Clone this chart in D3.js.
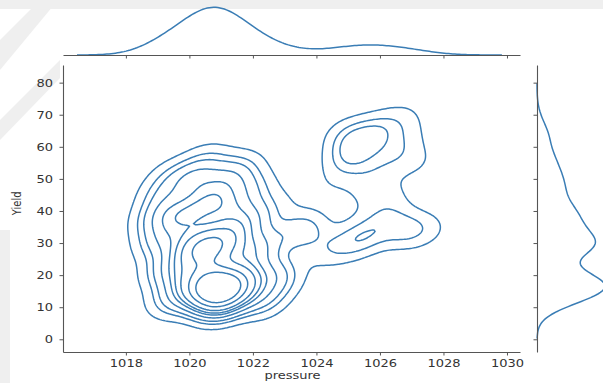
<!DOCTYPE html>
<html>
<head>
<meta charset="utf-8">
<script src="https://cdn.jsdelivr.net/npm/d3@7"></script>
<style>
  body { margin: 0; background: #fff; }
  svg { display: block; }
  .axis text { font-family: "DejaVu Sans", sans-serif; font-size: 10.5px; fill: #333; }
  .axis path, .axis line { stroke: #555; }
</style>
</head>
<body>
<svg id="chart" width="603" height="383"></svg>
<script>
const pressureObs = [
  1020.9, 1020.4, 1021.4, 1020.9, 1020.0, 1021.7, 1019.4, 1022.3, 1022.6, 1019.2,
  1020.55, 1019.9, 1021.2, 1020.7, 1021.9, 1019.0, 1022.4, 1019.7, 1021.5,
  1020.75, 1020.2, 1021.2, 1019.4, 1022.0, 1020.1, 1021.2, 1019.1, 1022.0, 1020.6, 1021.7, 1018.8, 1019.4,
  1023.55, 1022.9, 1022.8, 1024.4,
  1025.0, 1025.3, 1025.9, 1024.9, 1026.4, 1025.7, 1026.7, 1027.2, 1026.9,
  1025.5, 1026.8, 1026.2, 1024.8, 1026.3, 1027.5, 1024.2, 1025.5];
const yieldObs = [
  16.5, 15, 15, 11, 19, 19, 12, 12, 21, 21,
  29, 26, 31, 22, 27, 30, 30, 34, 35,
  45, 40, 41, 39, 38, 50, 50, 45, 47, 56, 54, 37, 51,
  34, 18, 42, 48,
  56, 61, 65, 64, 58, 52, 69, 55, 63,
  32, 34, 38, 29, 45, 34, 27, 45];
const countObs = [
  7, 3.5, 3.5, 3, 2.5, 2.5, 1.5, 1.5, 1.2, 1.5,
  6, 2.2, 2, 2, 2, 1.5, 1.1, 1.5, 1.5,
  1.8, 2.5, 2, 1.8, 1.5, 2, 1.5, 1.2, 1.2, 1, 0.9, 1, 0.7,
  1.7, 1, 0.5, 0.35,
  1.2, 1.3, 1.2, 0.7, 0.9, 0.6, 0.6, 0.5, 0.4,
  1.4, 1.2, 0.9, 0.8, 0.5, 0.6, 0.5, 0.4];

const xTicks = [1018, 1020, 1022, 1024, 1026, 1028, 1030];
const yTicks = [0, 10, 20, 30, 40, 50, 60, 70, 80];

// kde settings (seaborn style: 10 iso-proportion levels from 0.05)
const bw2 = { p: 0.55, y: 4.2, rho: 0.2 };
const bwTop = 0.78, bwRight = 3.6;
const nLevels = 10, thresh = 0.05;

const stretch = 1.24; // the picture is stretched sideways
const color = "#3a7db5";

const svg = d3.select("#chart");

// faint watermark of the page behind the chart
const bg = svg.append("g").attr("fill", "#efefef");
bg.append("rect").attr("x", 0).attr("y", 0).attr("width", 603).attr("height", 9);
bg.append("path").attr("d", "M0,40 L40,0 L58,0 L0,70 Z");
bg.append("path").attr("d", "M0,120 L60,60 L60,78 L0,140 Z");
bg.append("rect").attr("x", 0).attr("y", 230).attr("width", 10).attr("height", 153);

const x = d3.scaleLinear().domain([1016.02, 1030.41]).range([63, 520]);
const y = d3.scaleLinear().domain([-3.96, 85.5]).range([352, 65]);

// ---- joint kde ----
const nx = 260, ny = 220;
const p0 = 1016.02, p1 = 1030.41, y0 = -3.96, y1 = 85.5;
const dp = (p1 - p0) / (nx - 1), dy = (y1 - y0) / (ny - 1);
const values = new Float64Array(nx * ny);
for (let j = 0; j < ny; j++) {
  const yy = y0 + j * dy;
  for (let i = 0; i < nx; i++) {
    const pp = p0 + i * dp;
    let s = 0;
    for (let k = 0; k < pressureObs.length; k++) {
      const a = (pp - pressureObs[k]) / bw2.p, b = (yy - yieldObs[k]) / bw2.y;
      s += countObs[k] * Math.exp(-0.5 * (a * a - 2 * bw2.rho * a * b + b * b) / (1 - bw2.rho * bw2.rho));
    }
    values[j * nx + i] = s;
  }
}
const sorted = Array.from(values).sort((a, b) => b - a);
const total = d3.sum(sorted);
const cum = [];
let run = 0;
for (const v of sorted) { run += v; cum.push(run / total); }
const levels = d3.range(nLevels - 1).map(i => {
  const q = thresh + i * (1 - thresh) / (nLevels - 1);
  const idx = d3.bisectLeft(cum, 1 - q);
  return sorted[Math.min(idx, sorted.length - 1)];
});

const contours = d3.contours().size([nx, ny]).thresholds(levels)(values);
const proj = d3.geoTransform({
  point(cx, cy) { this.stream.point(x(p0 + (cx - 0.5) * dp), y(y0 + (cy - 0.5) * dy)); }
});
svg.append("g")
  .attr("fill", "none")
  .attr("stroke", color)
  .attr("stroke-width", 1.5)
  .selectAll("path")
  .data(contours)
  .join("path")
  .attr("d", d3.geoPath(proj));

// ---- marginals ----
function kde1(obs, bw, lo, hi, n) {
  return d3.range(n).map(i => {
    const v = lo + (hi - lo) * i / (n - 1);
    let s = 0;
    for (let k = 0; k < obs.length; k++) {
      const a = (v - obs[k]) / bw;
      s += countObs[k] * Math.exp(-0.5 * a * a);
    }
    return [v, s];
  });
}
const topDens = kde1(pressureObs, bwTop, d3.min(pressureObs) - 3 * bwTop, d3.max(pressureObs) + 3 * bwTop, 200);
const rightDens = kde1(yieldObs, bwRight, d3.min(yieldObs) - 3 * bwRight, d3.max(yieldObs) + 3 * bwRight, 200);

const topY = d3.scaleLinear().domain([0, d3.max(topDens, d => d[1])]).range([55, 7.3]);
const rightX = d3.scaleLinear().domain([0, d3.max(rightDens, d => d[1])]).range([537, 605]);

svg.append("path").datum(topDens)
  .attr("fill", "none").attr("stroke", color).attr("stroke-width", 1.5)
  .attr("d", d3.line().x(d => x(d[0])).y(d => topY(d[1])));
svg.append("path").datum(rightDens)
  .attr("fill", "none").attr("stroke", color).attr("stroke-width", 1.5)
  .attr("d", d3.line().x(d => rightX(d[1])).y(d => y(d[0])));

// ---- axes ----
const gx = svg.append("g").attr("class", "axis").attr("transform", "translate(0,352)")
  .call(d3.axisBottom(x).tickValues(xTicks).tickFormat(d3.format("d")).tickSize(3.5).tickPadding(3.6).tickSizeOuter(0));
gx.selectAll("text").attr("transform", `scale(${stretch},1)`);

const gy = svg.append("g").attr("class", "axis").attr("transform", "translate(63,0)")
  .call(d3.axisLeft(y).tickValues(yTicks).tickSize(3.5).tickPadding(4.6).tickSizeOuter(0));
gy.selectAll("text").attr("transform", `scale(${stretch},1)`);

svg.append("g").attr("class", "axis").attr("transform", "translate(0,55)")
  .call(d3.axisBottom(x).tickValues(xTicks).tickFormat("").tickSize(3.5).tickSizeOuter(0));
svg.append("g").attr("class", "axis").attr("transform", "translate(537,0)")
  .call(d3.axisLeft(y).tickValues(yTicks).tickFormat("").tickSize(3.5).tickSizeOuter(0));

svg.selectAll(".axis .domain").attr("stroke-width", 1.1);

svg.append("text")
  .attr("transform", `translate(292.5,378.5) scale(${stretch},1)`)
  .attr("text-anchor", "middle")
  .style("font-family", "DejaVu Sans, sans-serif").style("font-size", "10.5px").style("fill", "#333")
  .text("pressure");
svg.append("text")
  .attr("transform", `translate(20.7,203.3) scale(${stretch},1) rotate(-90)`)
  .attr("text-anchor", "middle")
  .style("font-family", "DejaVu Sans, sans-serif").style("font-size", "10px").style("fill", "#333")
  .text("Yield");
</script>
</body>
</html>
